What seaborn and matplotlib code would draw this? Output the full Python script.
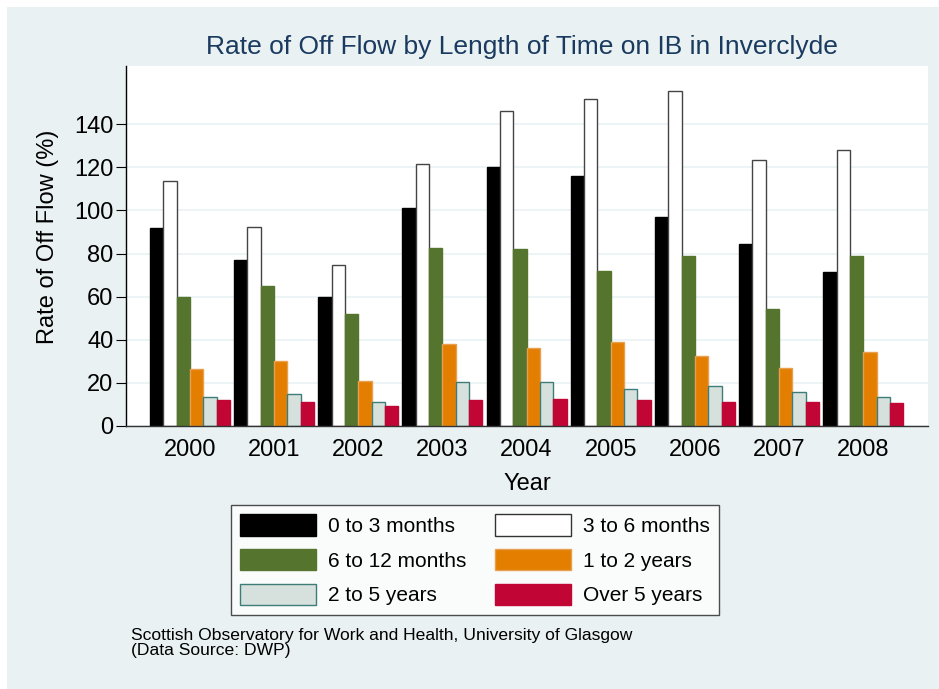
import matplotlib

matplotlib.use("Agg")
import matplotlib.pyplot as plt
import matplotlib.patches as mpatches
import pandas as pd
import seaborn as sns

# --- data ---
YEARS = ["2000", "2001", "2002", "2003", "2004", "2005", "2006", "2007", "2008"]
DURATIONS = [
    "0 to 3 months",
    "3 to 6 months",
    "6 to 12 months",
    "1 to 2 years",
    "2 to 5 years",
    "Over 5 years",
]
M0_3 = [91.9, 77.0, 59.8, 101.2, 120.0, 116.2, 96.9, 84.2, 71.5]
M3_6 = [113.7, 92.4, 74.5, 121.5, 145.9, 151.7, 155.5, 123.2, 128.1]
M6_12 = [59.8, 65.0, 51.8, 82.4, 81.9, 72.0, 78.8, 54.1, 78.8]
Y1_2 = [26.3, 30.0, 21.0, 38.0, 36.0, 38.9, 32.3, 26.7, 34.4]
Y2_5 = [13.3, 14.7, 11.3, 20.5, 20.4, 17.3, 18.4, 15.6, 13.4]
OVER5 = [11.9, 11.1, 9.4, 11.9, 12.4, 12.0, 11.1, 11.0, 10.7]

FILLS = ["#000000", "#FFFFFF", "#55752F", "#E37E00", "#D6E0DC", "#C10534"]
EDGES = ["#000000", "#444444", "#55752F", "#E8A050", "#3E7C78", "#C10534"]
BG = "#E9F1F2"

df = pd.DataFrame(
    {
        "Year": YEARS * 6,
        "Duration": [d for d in DURATIONS for _ in YEARS],
        "Rate": M0_3 + M3_6 + M6_12 + Y1_2 + Y2_5 + OVER5,
    }
)

sns.set_style("white")
plt.rcParams["font.family"] = ["Liberation Sans", "DejaVu Sans"]
plt.rcParams["text.color"] = "black"
plt.rcParams["axes.labelcolor"] = "black"
plt.rcParams["xtick.color"] = "black"
plt.rcParams["ytick.color"] = "black"

fig = plt.figure(figsize=(9.39, 6.89), dpi=100)
fig.patch.set_facecolor("white")
fig.patches.append(
    mpatches.Rectangle(
        (7 / 939, 0), 1, 1 - 7 / 689, transform=fig.transFigure,
        facecolor=BG, edgecolor="none", zorder=-10,
    )
)

ax = fig.add_axes([126 / 939, 263 / 689, (928 - 126) / 939, (426 - 66) / 689])
sns.barplot(
    data=df, x="Year", y="Rate", hue="Duration", hue_order=DURATIONS,
    palette=FILLS, width=0.95, saturation=1, legend=False, ax=ax,
)

# colour edges per series
for cont, ec in zip(ax.containers, EDGES):
    for bar in cont:
        bar.set_edgecolor(ec)
        bar.set_linewidth(1.0)

ax.set_ylim(0, 167)
ax.set_xlim(-0.76, 8.77)
ax.set_yticks(range(0, 141, 20))
ax.yaxis.grid(True, color="#EAF2F3", linewidth=1.2)
ax.set_axisbelow(True)
for s in ["top", "right"]:
    ax.spines[s].set_visible(False)
ax.spines["left"].set_color("black")
ax.spines["left"].set_linewidth(1.0)
ax.spines["bottom"].set_color("#333333")
ax.spines["bottom"].set_linewidth(1.0)
ax.tick_params(axis="y", length=7, width=0.8, color="black", labelsize=17, pad=2,
               left=True, labelcolor="black")
ax.tick_params(axis="x", length=0, labelsize=17, pad=9, labelcolor="black")
ax.set_ylabel("Rate of Off Flow (%)", fontsize=17, color="black")
ax.yaxis.set_label_coords(-0.083, 0.525)
ax.set_xlabel("Year", fontsize=17, labelpad=9, color="black")

fig.text(522 / 939, 1 - 47 / 689, "Rate of Off Flow by Length of Time on IB in Inverclyde",
         ha="center", va="center", fontsize=19, color="#1A3A5F")

# legend in row order (matplotlib fills columns first)
order = [0, 2, 4, 1, 3, 5]
handles = [
    mpatches.Patch(facecolor=FILLS[i], edgecolor=EDGES[i] if i != 1 else "#333333",
                   linewidth=1.0, label=DURATIONS[i])
    for i in order
]
leg = fig.legend(
    handles=handles, loc="upper center", bbox_to_anchor=(475 / 939, 1 - 505 / 689),
    borderaxespad=0, ncol=2, fontsize=15, frameon=True, fancybox=False,
    edgecolor="#222222", handlelength=3.65, handleheight=1.2, handletextpad=0.55,
    columnspacing=1.4, labelspacing=0.62, borderpad=0.45, labelcolor="black",
)
leg.get_frame().set_linewidth(1.0)
leg.get_frame().set_facecolor("white")

fig.text(131 / 939, 1 - 628 / 689,
         "Scottish Observatory for Work and Health, University of Glasgow\n(Data Source: DWP)",
         ha="left", va="top", fontsize=12.6, linespacing=1.0, color="black")

fig.savefig("out.png", dpi=100, facecolor=fig.get_facecolor())
